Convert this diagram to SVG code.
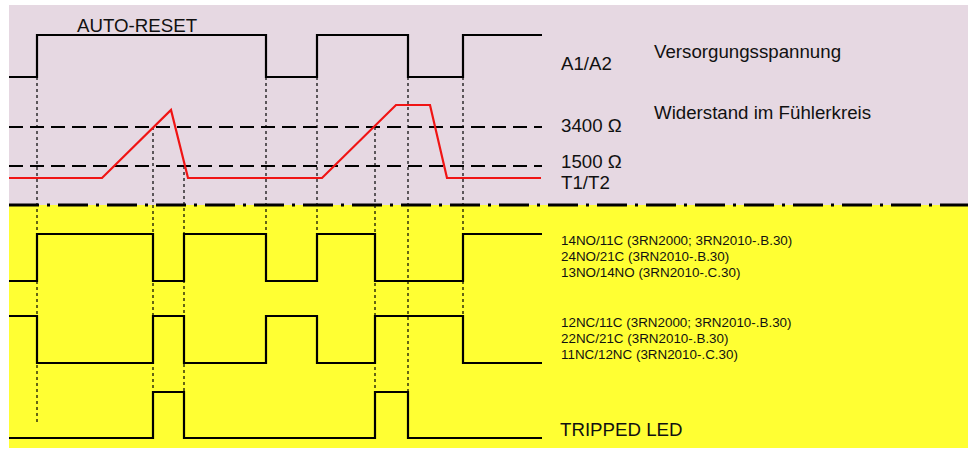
<svg xmlns="http://www.w3.org/2000/svg" width="968" height="449" viewBox="0 0 968 449">
<style>
.sig{fill:none;stroke:#000;stroke-width:2.2;stroke-linejoin:miter}
.red{fill:none;stroke:#f01414;stroke-width:2.2;stroke-linejoin:miter}
.thr{stroke:#000;stroke-width:2;stroke-dasharray:14 7}
.dot{stroke:#000;stroke-width:1.2;stroke-dasharray:3 3}
.big{font-family:"Liberation Sans",Arial,sans-serif;font-size:18.7px;fill:#111}
.sm{font-family:"Liberation Sans",Arial,sans-serif;font-size:13.4px;fill:#111}
</style>
<rect id="bg-top" x="9" y="5" width="959" height="200" fill="#e6d8e2"/>
<rect id="bg-bottom" x="9" y="205" width="959" height="243" fill="#ffff33"/>
<line id="divider" x1="9" y1="205" x2="968" y2="205" stroke="#000" stroke-width="3" stroke-dasharray="30 8 3 8"/>
<g id="guides">
<line class="dot" x1="37" y1="77" x2="37" y2="423"/>
<line class="dot" x1="153" y1="127" x2="153" y2="392"/>
<line class="dot" x1="184" y1="166" x2="184" y2="392"/>
<line class="dot" x1="266" y1="77" x2="266" y2="234"/>
<line class="dot" x1="317" y1="77" x2="317" y2="234"/>
<line class="dot" x1="375" y1="127" x2="375" y2="392"/>
<line class="dot" x1="408" y1="77" x2="408" y2="392"/>
<line class="dot" x1="463" y1="77" x2="463" y2="316"/>
</g>
<g id="thresholds">
<line class="thr" x1="9" y1="127" x2="542" y2="127"/>
<line class="thr" x1="9" y1="166" x2="542" y2="166"/>
</g>
<g id="a1a2">
<path class="sig" d="M9,77 H37 V35 H266 V77 H317 V35 H408 V77 H463 V35 H542"/>
<text class="big" x="77" y="32" font-size="19">AUTO-RESET</text>
<text class="big" x="561" y="70">A1/A2</text>
<text class="big" x="654" y="58">Versorgungsspannung</text>
</g>
<g id="t1t2">
<path class="red" d="M9,178 H102 L171,110 L188,178 H322 L396,105 H430 L447,178 H541"/>
<text class="big" x="654" y="119">Widerstand im Fühlerkreis</text>
<text class="big" x="561" y="132">3400 Ω</text>
<text class="big" x="561" y="168">1500 Ω</text>
<text class="big" x="561" y="189">T1/T2</text>
</g>
<g id="no">
<path class="sig" d="M9,281 H37 V234 H153 V281 H184 V234 H266 V281 H317 V234 H375 V281 H463 V234 H542"/>
<text class="sm" x="561" y="245">14NO/11C (3RN2000; 3RN2010-.B.30)</text>
<text class="sm" x="561" y="261">24NO/21C (3RN2010-.B.30)</text>
<text class="sm" x="561" y="277">13NO/14NO (3RN2010-.C.30)</text>
</g>
<g id="nc">
<path class="sig" d="M9,316 H37 V363 H153 V316 H184 V363 H266 V316 H317 V363 H375 V316 H463 V363 H542"/>
<text class="sm" x="561" y="327">12NC/11C (3RN2000; 3RN2010-.B.30)</text>
<text class="sm" x="561" y="343">22NC/21C (3RN2010-.B.30)</text>
<text class="sm" x="561" y="359">11NC/12NC (3RN2010-.C.30)</text>
</g>
<g id="tripped">
<path class="sig" d="M9,438 H153 V392 H184 V438 H375 V392 H408 V438 H542"/>
<text class="big" x="560" y="436">TRIPPED LED</text>
</g>
</svg>
